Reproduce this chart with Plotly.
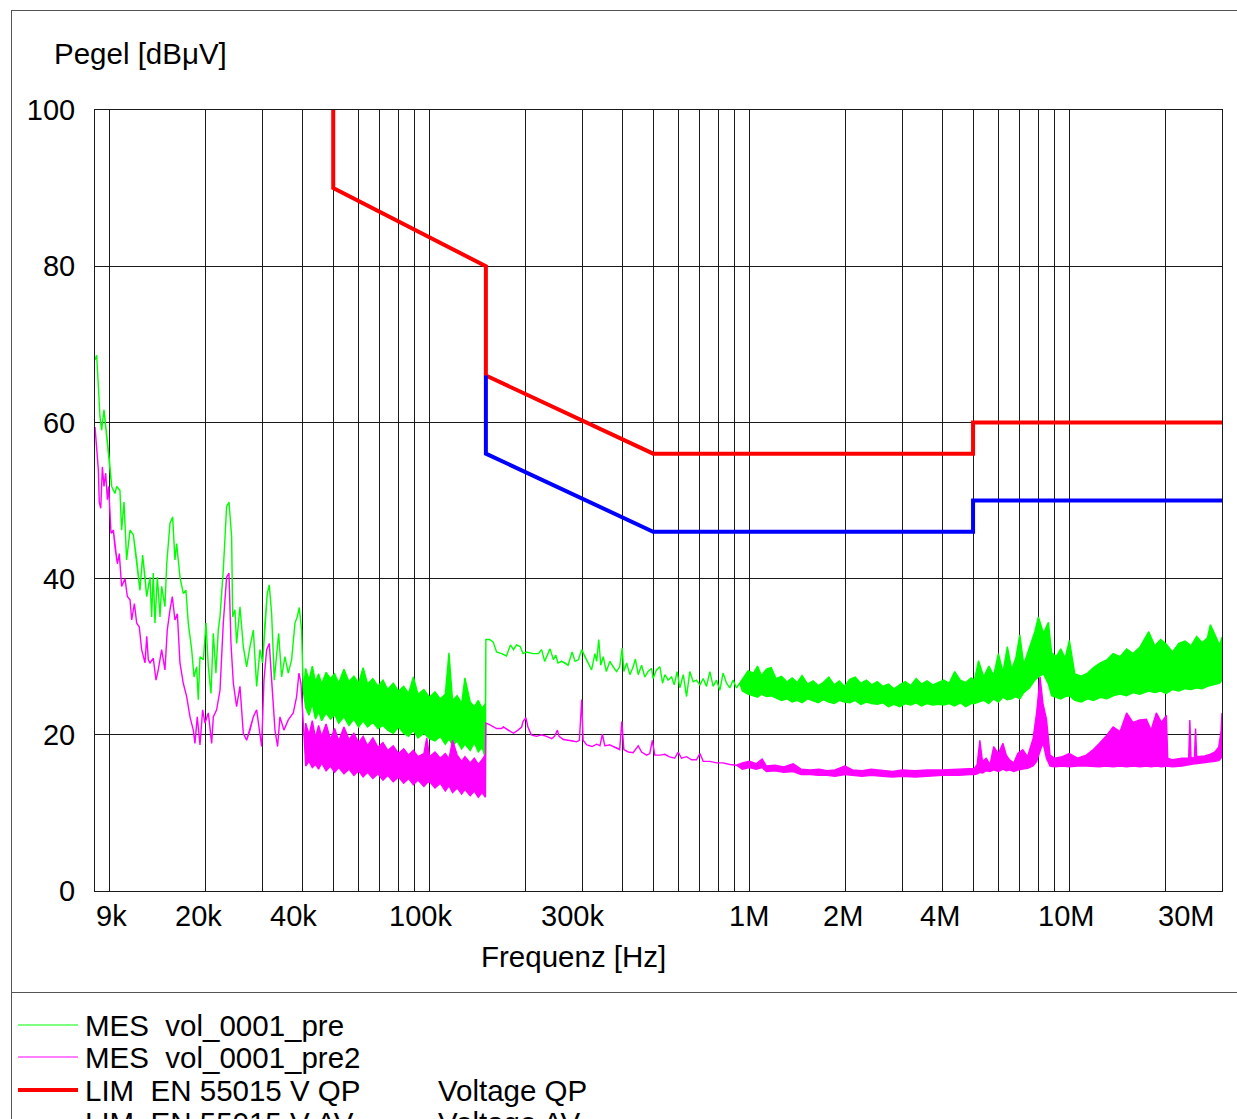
import numpy as np
import plotly.graph_objects as go

# ---------------- data (frequency in kHz, level in dBuV) ----------------
# MES vol_0001_pre (green) : low-frequency single trace
GREEN_LOW_F = [9.00, 9.11, 9.33, 9.44, 9.60, 9.79, 9.98, 10.15, 10.39, 10.52,
               10.77, 10.90, 11.09, 11.30, 11.58, 11.86, 12.15, 12.44, 12.68, 12.90,
               13.06, 13.37, 13.53, 13.69, 13.86, 14.10, 14.37, 14.54, 14.89, 15.08,
               15.44, 15.74, 16.00, 16.20, 16.59, 16.99, 17.32, 17.61, 18.05, 18.35,
               18.70, 18.93, 19.16, 19.63, 20.01, 20.35, 20.74, 21.09, 21.49, 21.86,
               22.13, 22.66, 23.21, 23.61, 24.06, 24.24, 24.64, 24.94, 25.55, 26.17,
               26.81, 27.46, 28.13, 28.81, 29.51, 30.08, 30.58, 31.10, 31.55, 32.09,
               32.71, 33.26, 33.75, 34.48, 35.32, 36.17, 37.05, 37.96, 38.60, 39.15,
               39.81, 40.29]
GREEN_LOW_V = [68.0, 68.6, 60.7, 59.0, 61.6, 58.2, 55.2, 51.8, 50.9, 51.8,
               51.3, 46.2, 49.8, 42.4, 46.2, 45.6, 42.4, 38.5, 43.0, 40.2,
               37.7, 40.2, 35.1, 40.7, 34.3, 40.2, 35.1, 39.0, 36.4, 41.9,
               47.1, 47.9, 42.4, 44.5, 40.2, 38.1, 38.5, 34.3, 30.9, 27.4,
               28.7, 24.5, 30.0, 29.6, 34.3, 28.7, 25.3, 33.0, 27.9, 33.4,
               35.1, 41.1, 49.2, 49.8, 45.4, 35.1, 36.0, 31.7, 36.4, 31.3,
               28.7, 31.3, 33.4, 26.2, 30.9, 29.2, 34.3, 38.1, 39.2, 35.5,
               27.0, 30.0, 33.0, 27.4, 30.0, 27.9, 29.6, 34.3, 35.1, 36.3,
               33.4, 25.7]
# green dense band 41k-150k (upper / lower edge)
GREEN_B1_F = [41, 42, 43, 44, 45, 46, 47.5, 49, 50.5, 52,
              54, 56, 58, 60, 62, 64, 66.5, 69, 71.5, 74,
              77, 80, 83, 86, 89, 92, 96, 100, 104, 108,
              112, 115, 118, 122, 126, 129, 134, 138, 142, 146,
              149.5]
GREEN_B1_HI = [28.5, 27.0, 28.8, 26.8, 27.8, 26.5, 28.0, 27.2, 27.8, 26.6,
               28.4, 26.8, 27.5, 26.6, 28.6, 26.5, 27.2, 26.2, 27.0, 25.8,
               26.6, 25.6, 26.2, 25.3, 27.4, 25.2, 25.8, 24.8, 25.5, 24.6,
               25.2, 30.5, 24.4, 25.0, 24.0, 27.3, 24.2, 23.6, 24.4, 23.4,
               24.0]
GREEN_B1_LO = [23.5, 22.5, 24.0, 22.0, 23.0, 21.8, 22.8, 22.0, 22.6, 21.5,
               22.3, 21.2, 22.0, 21.0, 21.8, 21.0, 21.6, 20.8, 21.2, 20.6,
               20.2, 21.0, 20.2, 19.8, 20.6, 19.6, 20.2, 19.5, 19.2, 19.8,
               18.8, 19.5, 18.6, 19.2, 18.2, 18.8, 18.0, 19.0, 17.8, 18.4,
               17.0]
# green single trace 150k-930k
GREEN_MID_F = [150, 154, 158, 162, 168, 174, 179, 183, 187, 192,
               196, 201, 211, 219, 224, 229, 238, 244, 248, 252,
               259, 265, 271, 279, 285, 292, 299, 306, 313, 321,
               329, 333, 338, 343, 349, 357, 366, 375, 384, 393,
               400, 405, 413, 423, 433, 440, 449, 460, 471, 482,
               494, 500, 512, 525, 535, 544, 557, 571, 582, 594,
               606, 621, 636, 651, 667, 683, 700, 717, 734, 752,
               770, 789, 808, 827, 848, 868, 889, 911, 933]
GREEN_MID_V = [32.2, 32.2, 31.9, 30.6, 30.4, 30.1, 31.5, 30.9, 31.5, 31.3,
               30.4, 30.6, 30.4, 30.4, 30.9, 29.4, 31.0, 29.6, 30.2, 29.2,
               29.4, 29.2, 28.9, 30.6, 29.4, 29.6, 30.9, 30.0, 29.2, 28.3,
               30.4, 29.4, 32.2, 28.9, 30.0, 28.1, 29.4, 28.7, 28.1, 28.7,
               31.1, 28.1, 29.2, 27.7, 28.7, 29.7, 27.7, 28.9, 27.4, 28.1,
               28.5, 27.2, 28.3, 28.7, 26.6, 27.7, 27.0, 27.4, 26.4, 28.1,
               26.0, 27.7, 24.9, 28.1, 26.8, 27.0, 26.4, 27.2, 26.2, 28.1,
               26.2, 27.0, 25.7, 27.9, 26.6, 26.0, 27.0, 26.0, 26.6]
# green dense band 950k-30M
GREEN_B2_F = [950, 990, 1030, 1060, 1090, 1130, 1170, 1210, 1260, 1310,
              1360, 1410, 1460, 1520, 1580, 1640, 1700, 1770, 1840, 1910,
              1980, 2060, 2140, 2230, 2320, 2410, 2510, 2610, 2720, 2830,
              2950, 3070, 3190, 3320, 3450, 3590, 3740, 3890, 4050, 4210,
              4380, 4560, 4740, 4930,
              5050, 5200, 5400, 5600, 5800, 6000, 6200, 6400, 6600, 6800,
              7000, 7200, 7500, 7800, 8000, 8300, 8600, 8800, 9100, 9400,
              9700, 10000, 10400, 10900, 11400, 11900, 12500, 13100, 13700, 14400,
              15100, 15800, 16600, 17700, 18500, 19300, 20100, 21000, 22000, 23000,
              24000, 25000, 26000, 27000, 27600, 28500, 29500, 30000]
GREEN_B2_HI = [27.0, 28.2, 27.9, 28.8, 27.6, 28.4, 28.6, 27.2, 27.5, 26.8,
               27.3, 26.7, 27.6, 26.5, 26.9, 26.3, 26.7, 27.4, 26.4, 26.9,
               26.2, 27.1, 27.4, 26.6, 27.0, 26.4, 26.8, 26.2, 26.5, 25.9,
               26.4, 26.8, 26.3, 27.2, 26.5, 26.9, 26.4, 26.7, 27.0, 26.6,
               28.1, 27.0, 26.7, 27.3,
               27.0, 29.5, 27.4, 28.8, 27.6, 30.4, 28.0, 31.3, 28.4, 29.8,
               32.8, 29.0, 31.2, 33.2, 35.1, 33.0, 34.4, 30.5, 30.0, 31.0,
               29.8, 32.1, 27.8, 27.5, 27.9, 28.6, 29.2, 29.6, 30.4, 30.0,
               31.0, 30.4, 31.2, 33.2, 31.4, 32.2, 31.6, 30.6, 31.7, 32.0,
               31.4, 32.6, 31.8, 32.4, 34.1, 32.8, 31.5, 32.5]
GREEN_B2_LO = [25.6, 25.2, 25.0, 24.8, 25.2, 24.9, 25.0, 24.7, 24.4, 24.6,
               24.2, 24.4, 24.1, 24.6, 24.3, 24.1, 24.5, 24.2, 24.0, 24.4,
               24.2, 24.1, 24.4, 23.9, 24.2, 24.0, 23.9, 24.1, 23.6, 23.9,
               23.6, 24.0, 23.8, 24.1, 23.7, 24.0, 23.8, 23.9, 23.8, 24.0,
               23.7, 24.1, 23.6, 24.0,
               24.0, 24.2, 24.4, 24.0, 24.6, 24.2, 24.8, 24.5, 24.6, 24.9,
               24.6, 25.4, 26.0, 27.0, 27.4, 27.8, 26.5, 25.0, 24.8, 24.6,
               24.9, 25.0, 24.4, 24.2, 24.6, 24.4, 24.8, 24.6, 25.0, 25.2,
               25.0, 25.4, 25.2, 25.6, 25.4, 25.6, 25.3, 25.8, 25.6, 25.9,
               25.8, 26.0, 25.9, 26.2, 26.3, 26.4, 26.6, 27.0]

# MES vol_0001_pre2 (magenta)
MAG_LOW_F = [9.00, 9.22, 9.28, 9.38, 9.49, 9.60, 9.72, 9.84, 9.93, 10.1,
             10.27, 10.39, 10.57, 10.72, 10.90, 11.17, 11.36, 11.58, 11.72, 11.95,
             12.15, 12.38, 12.59, 12.90, 13.06, 13.21, 13.37, 13.69, 13.96, 14.19,
             14.54, 14.89, 15.14, 15.44, 15.70, 16.0, 16.28, 16.59, 16.99, 17.41,
             17.83, 18.26, 18.48, 18.79, 19.16, 19.53, 19.86, 20.35, 20.84, 21.09,
             21.6, 22.13, 22.66, 23.21, 23.61, 23.95, 24.36, 24.94, 25.55, 26.17,
             26.81, 27.46, 28.13, 28.81, 29.86, 30.37, 30.96, 31.55, 32.09, 32.87,
             33.5, 34.07, 35.06, 36.17, 37.5, 38.41, 39.06, 39.63, 40.29, 40.7]
MAG_LOW_V = [59.4, 53.9, 49.8, 49.0, 54.3, 51.8, 53.5, 50.1, 51.8, 45.8,
             46.2, 44.1, 41.9, 43.2, 39.0, 40.0, 37.7, 37.3, 34.7, 36.8,
             34.3, 33.8, 30.9, 29.2, 32.6, 29.6, 29.2, 29.8, 27.0, 28.3,
             30.9, 28.3, 33.4, 36.0, 37.7, 34.7, 35.5, 29.2, 26.6, 24.9,
             22.3, 20.6, 18.9, 22.3, 18.7, 23.2, 21.5, 22.8, 18.9, 22.3,
             23.2, 25.7, 34.3, 40.2, 40.7, 31.7, 26.6, 23.6, 26.2, 20.2,
             19.3, 20.6, 22.3, 23.2, 18.5, 27.0, 30.9, 31.7, 27.0, 20.6,
             18.5, 22.3, 20.6, 21.9, 22.8, 24.9, 27.9, 26.6, 21.5, 18.5]
MAG_B1_F = [41, 42, 43, 44, 45, 46, 47.5, 49, 50.5, 52,
            54, 56, 58, 60, 62, 64, 66.5, 69, 71.5, 74,
            77, 80, 83, 86, 89, 92, 96, 98, 100, 104,
            108, 112, 115, 118, 122, 126, 129, 134, 138, 142,
            146, 149.5]
MAG_B1_HI = [21.5, 20.0, 21.8, 19.6, 21.2, 19.8, 21.4, 19.4, 20.8, 19.2,
             21.0, 19.4, 20.2, 19.0, 19.8, 18.6, 19.6, 18.4, 19.0, 18.0,
             18.6, 17.6, 18.2, 17.4, 18.0, 17.2, 17.6, 19.6, 17.2, 17.8,
             17.0, 17.6, 16.9, 19.3, 17.4, 16.6, 17.2, 16.4, 17.0, 16.2,
             16.8, 17.5]
MAG_B1_LO = [16.0, 16.6, 15.8, 16.2, 15.6, 16.4, 15.4, 16.0, 15.2, 15.8,
             15.0, 15.6, 14.8, 15.4, 14.6, 15.2, 14.4, 15.0, 14.2, 14.8,
             14.0, 14.6, 13.8, 14.4, 13.6, 14.2, 13.4, 13.8, 14.0, 13.2,
             13.8, 12.8, 13.5, 12.6, 13.2, 12.4, 13.0, 12.2, 12.8, 12.0,
             12.6, 12.0]
MAG_MID_F = [150, 154, 162, 168, 170, 176, 183, 189, 194, 196,
             200, 203, 208, 216, 224, 232, 241, 246, 251, 254,
             262, 271, 281, 288, 294, 299, 302, 310, 322, 333,
             341, 347, 353, 366, 375, 386, 393, 399, 405, 418,
             433, 449, 460, 477, 488, 497, 506, 525, 544, 560,
             584, 599, 613, 636, 659, 683, 700, 717, 752, 789,
             827, 868, 911]
MAG_MID_V = [21.5, 21.3, 20.8, 20.8, 21.0, 20.6, 20.2, 20.6, 21.0, 21.7,
             22.2, 21.0, 20.0, 19.8, 20.0, 19.8, 19.5, 19.8, 20.6, 19.8,
             19.4, 19.3, 19.2, 19.1, 19.3, 24.5, 19.3, 18.7, 18.5, 18.8,
             18.6, 20.1, 18.6, 18.7, 18.5, 18.3, 18.1, 21.7, 18.1, 17.8,
             17.7, 18.6, 17.8, 17.4, 17.6, 19.3, 17.4, 17.4, 17.5, 17.2,
             17.0, 17.8, 17.0, 17.2, 16.8, 16.8, 17.6, 16.6, 16.6, 16.4,
             16.4, 16.2, 16.1]
MAG_B2_F = [950, 1000, 1050, 1095, 1130, 1200, 1280, 1370, 1450, 1550,
            1650, 1750, 1850, 1987, 2100, 2250, 2400, 2600, 2800, 3000,
            3300, 3600, 4000, 4500, 4900,
            5050, 5150, 5250, 5350, 5500, 5650, 5800, 6000, 6200, 6350,
            6500, 6700, 6900, 7150, 7400, 7700, 7900, 8100, 8270, 8480,
            8700, 9000, 9500, 10000, 10600, 11300, 11800, 12400, 13000, 13700,
            14400, 15100, 15800, 16600, 17400, 18000, 18700, 19400, 20100, 20300,
            21000, 22500, 23600, 23800, 24000, 24600, 24800, 25000, 26500, 27500,
            28500, 29300, 29800, 30000]
MAG_B2_HI = [16.4, 16.6, 16.3, 16.9, 16.0, 16.1, 15.9, 16.3, 15.6, 15.5,
             15.6, 15.4, 15.5, 16.0, 15.5, 15.4, 15.6, 15.4, 15.3, 15.5,
             15.4, 15.5, 15.5, 15.6, 15.7,
             15.7, 16.2, 19.3, 16.6, 17.0, 16.2, 18.5, 17.6, 18.9, 17.4,
             16.8, 16.4, 17.6, 18.1, 17.2, 19.5, 22.8, 27.4, 24.0, 22.0,
             17.4, 17.0, 17.2, 17.6, 17.0, 17.4, 18.0, 18.9, 19.8, 21.0,
             20.4, 22.8, 21.6, 21.9, 22.0, 20.6, 22.8, 21.6, 22.5, 17.0,
             16.8, 17.0, 17.0, 21.9, 17.0, 17.1, 20.8, 17.2, 17.3, 17.5,
             17.8, 18.4, 20.5, 22.8]
MAG_B2_LO = [15.6, 15.8, 15.6, 15.8, 15.3, 15.4, 15.2, 15.3, 14.9, 14.9,
             14.8, 14.8, 14.7, 14.9, 14.8, 14.7, 14.8, 14.7, 14.6, 14.7,
             14.6, 14.7, 14.8, 14.8, 14.9,
             14.9, 15.0, 15.2, 15.1, 15.4, 15.3, 15.5, 15.3, 15.6, 15.4,
             15.5, 15.3, 15.5, 15.6, 15.7, 16.0, 16.6, 18.0, 19.0, 17.0,
             16.0, 15.9, 16.0, 15.9, 16.0, 16.0, 16.0, 15.9, 16.0, 15.9,
             16.0, 15.9, 16.0, 15.9, 16.0, 15.9, 16.0, 15.9, 16.0, 16.0,
             15.9, 16.0, 16.2, 16.2, 16.2, 16.3, 16.3, 16.3, 16.4, 16.5,
             16.6, 16.7, 17.0, 17.6]

# Limits EN 55015
QP_F = [9, 50, 50, 150, 150, 500, 5000, 5000, 30000]
QP_V = [110, 110, 90, 80, 66, 56, 56, 60, 60]
AV_F = [150, 150, 500, 5000, 5000, 30000]
AV_V = [66, 56, 46, 46, 50, 50]

GRID_F = [10, 20, 30, 40, 50, 60, 70, 80, 90,
          100, 200, 300, 400, 500, 600, 700, 800, 900,
          1000, 2000, 3000, 4000, 5000, 6000, 7000, 8000, 9000,
          10000, 20000, 30000]
TICK_F = [9, 20, 40, 100, 300, 1000, 2000, 4000, 10000, 30000]
TICK_TEXT = ["9k", "20k", "40k", "100k", "300k", "1M", "2M", "4M", "10M", "30M"]
Y_TICKS = [0, 20, 40, 60, 80, 100]

LEGEND_NAMES = ["MES\u00a0 vol_0001_pre", "MES\u00a0 vol_0001_pre2",
                "LIM\u00a0 EN 55015 V QP", "LIM\u00a0 EN 55015 V AV"]
LEGEND_NOTES = ["", "", "Voltage QP", "Voltage AV"]

# ---------------- layout helpers ----------------
W, H = 1237, 1119
ML, MR, MT, MB = 95, 15, 110, 228
PW = W - ML - MR
PH = H - MT - MB
FONT = "Liberation Sans, Arial, sans-serif"


def px(xp):
    return (xp - ML) / PW


def py(yp):
    return (H - MB - yp) / PH


def build(parts):
    f, hi, lo = [], [], []
    for p in parts:
        f += list(p[0])
        hi += list(p[1])
        lo += list(p[2] if len(p) == 3 else p[1])
    x = [v * 1e3 for v in f] + [v * 1e3 for v in f[::-1]]
    y = hi + lo[::-1]
    return x, y


GREEN = "#00ff00"
MAG = "#ff00ff"
RED = "#ff0000"
BLUE = "#0000ff"

gx, gy = build([(GREEN_LOW_F, GREEN_LOW_V), (GREEN_B1_F, GREEN_B1_HI, GREEN_B1_LO),
                (GREEN_MID_F, GREEN_MID_V), (GREEN_B2_F, GREEN_B2_HI, GREEN_B2_LO)])
mx, my = build([(MAG_LOW_F, MAG_LOW_V), (MAG_B1_F, MAG_B1_HI, MAG_B1_LO),
                (MAG_MID_F, MAG_MID_V), (MAG_B2_F, MAG_B2_HI, MAG_B2_LO)])

fig = go.Figure()
fig.add_trace(go.Scatter(x=gx, y=gy, mode="lines", fill="toself", fillcolor=GREEN,
                         line=dict(color=GREEN, width=1.4), hoverinfo="skip",
                         showlegend=False))
fig.add_trace(go.Scatter(x=mx, y=my, mode="lines", fill="toself", fillcolor=MAG,
                         line=dict(color=MAG, width=1.4), hoverinfo="skip",
                         showlegend=False))
fig.add_trace(go.Scatter(x=[f * 1e3 for f in QP_F], y=QP_V, mode="lines",
                         line=dict(color=RED, width=4), hoverinfo="skip",
                         showlegend=False))
fig.add_trace(go.Scatter(x=[f * 1e3 for f in AV_F], y=AV_V, mode="lines",
                         line=dict(color=BLUE, width=4), hoverinfo="skip",
                         showlegend=False))

GRIDC = "#1a1a1a"
fig.update_xaxes(type="log", range=[np.log10(9e3), np.log10(30e6)],
                 tickvals=[f * 1e3 for f in GRID_F], showticklabels=False,
                 ticks="", showgrid=True, gridcolor=GRIDC, gridwidth=1,
                 showline=True, mirror=True, linecolor=GRIDC, linewidth=1,
                 zeroline=False)
fig.update_yaxes(range=[0, 100], tickvals=Y_TICKS, showgrid=True, gridcolor=GRIDC,
                 gridwidth=1, showline=True, mirror=True, linecolor=GRIDC,
                 linewidth=1, zeroline=False, ticks="",
                 tickfont=dict(family=FONT, size=29, color="black"),
                 ticklabelstandoff=13)

ann = []
shapes = []
# x tick labels
shifts = [0, -7.5, -8.5, -8.7, -10, -0.6, -3, -2.3, -3.6, 0]
for i, (f, t) in enumerate(zip(TICK_F, TICK_TEXT)):
    anchor = "center"
    sh = shifts[i]
    if i == 0:
        anchor, sh = "left", -1
    elif i == len(TICK_F) - 1:
        anchor, sh = "right", -6
    ann.append(dict(x=np.log10(f * 1e3), xref="x", y=py(916), yref="paper",
                    text=t, showarrow=False, xanchor=anchor, yanchor="middle",
                    xshift=sh, font=dict(family=FONT, size=29, color="black")))
# axis titles
ann.append(dict(x=px(52), y=py(54), xref="paper", yref="paper", text="Pegel [dBμV]",
                showarrow=False, xanchor="left", yanchor="middle",
                font=dict(family=FONT, size=29.5, color="black")))
ann.append(dict(x=px(573.5), y=py(957), xref="paper", yref="paper",
                text="Frequenz [Hz]", showarrow=False, xanchor="center",
                yanchor="middle", font=dict(family=FONT, size=29.5, color="black")))

# custom legend
leg_rows = [1025, 1057, 1090, 1122]
leg_cols = [GREEN, MAG, RED, BLUE]
leg_w = [1.2, 1.2, 4, 4]
for r, c, w, name, note in zip(leg_rows, leg_cols, leg_w, LEGEND_NAMES, LEGEND_NOTES):
    shapes.append(dict(type="line", xref="paper", yref="paper", x0=px(18), x1=px(78),
                       y0=py(r), y1=py(r), line=dict(color=c, width=w)))
    ann.append(dict(x=px(83), y=py(r), xref="paper", yref="paper", text=name,
                    showarrow=False, xanchor="left", yanchor="middle",
                    font=dict(family=FONT, size=29.5, color="black")))
    if note:
        ann.append(dict(x=px(436), y=py(r), xref="paper", yref="paper", text=note,
                        showarrow=False, xanchor="left", yanchor="middle",
                        font=dict(family=FONT, size=29.5, color="black")))

# outer frame
FR = "#555555"
shapes.append(dict(type="line", xref="paper", yref="paper", x0=px(11), x1=px(1245),
                   y0=py(10.5), y1=py(10.5), line=dict(color=FR, width=1)))
shapes.append(dict(type="line", xref="paper", yref="paper", x0=px(11.5), x1=px(11.5),
                   y0=py(10), y1=py(1130), line=dict(color=FR, width=1)))
shapes.append(dict(type="line", xref="paper", yref="paper", x0=px(11), x1=px(1245),
                   y0=py(992.5), y1=py(992.5), line=dict(color=FR, width=1)))

fig.update_layout(width=W, height=H, autosize=False,
                  margin=dict(l=ML, r=MR, t=MT, b=MB, pad=0),
                  paper_bgcolor="white", plot_bgcolor="white",
                  showlegend=False, annotations=ann, shapes=shapes,
                  font=dict(family=FONT, size=29, color="black"))

fig.write_html("out.html", include_plotlyjs=True, full_html=True,
               config={"displayModeBar": False, "staticPlot": True},
               post_script="document.body.style.margin='0';"
                           "document.body.style.overflow='hidden';")
